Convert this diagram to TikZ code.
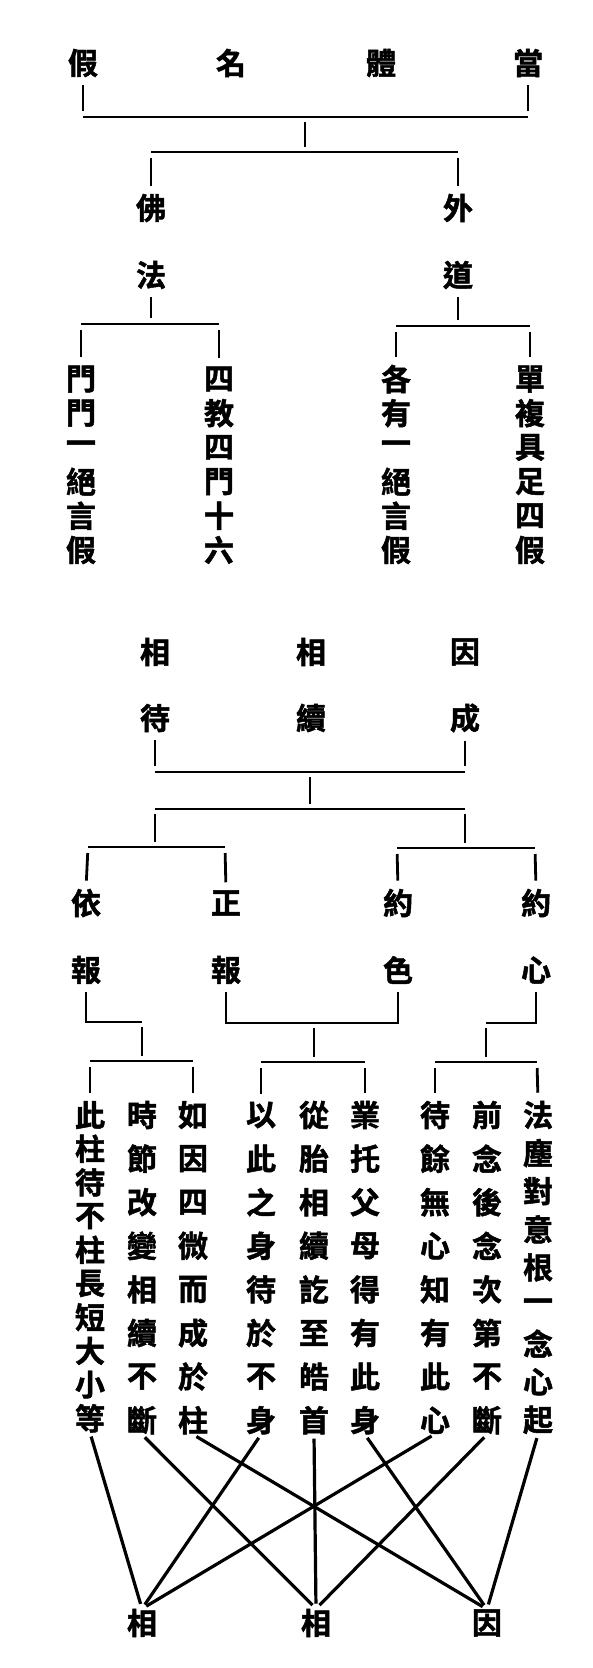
\documentclass[tikz,border=0pt]{standalone}
\usepackage{fontspec}
\usepackage{tikz}
\newfontfamily\cjk{Noto Sans CJK TC}[UprightFont=* Bold, UprightFeatures={FakeBold=1.6}]

\begin{document}
\begin{tikzpicture}[x=1pt, y=-1pt,
  glyph/.style={inner sep=0pt, font=\cjk\fontsize{30}{30}\selectfont},
  tree/.style={line width=2.8pt},
  drop/.style={tree, shorten <=8pt, shorten >=6pt},
  hang/.style={tree, shorten <=6pt, shorten >=8pt},
  stem/.style={tree, shorten <=5pt, shorten >=5pt},
  cross/.style={line width=3.2pt, shorten <=4pt, shorten >=5pt}]
\useasboundingbox (0,0) rectangle (592,1668);

% Heading row
\node[glyph] (jia) at (83,63) {假};
\node[glyph] (ming) at (231,63) {名};
\node[glyph] (ti) at (381,63) {體};
\node[glyph] (dang) at (528,63) {當};

% First bracket
\coordinate (h1l) at (83,117);
\coordinate (h1m) at (305,117);
\coordinate (h1r) at (528,117);
\draw[drop] (jia.south) -- (h1l);
\draw[drop] (dang.south) -- (h1r);
\draw[tree] (h1l) -- (h1r);
\coordinate (h2l) at (151,152);
\coordinate (h2m) at (305,152);
\coordinate (h2r) at (458,152);
\draw[stem] (h1m) -- (h2m);
\draw[tree] (h2l) -- (h2r);

% Buddhist and outer paths
\node[glyph] (fo) at (151,208) {佛};
\node[glyph] (fa) at (151,275) {法};
\node[glyph] (wai) at (458,208) {外};
\node[glyph] (dao) at (458,275) {道};
\draw[hang] (h2l) -- (fo.north);
\draw[hang] (h2r) -- (wai.north);

% Brackets under fa and dao
\coordinate (h3l) at (81,324);
\coordinate (h3m) at (151,324);
\coordinate (h3r) at (219,324);
\coordinate (h4l) at (396,326);
\coordinate (h4m) at (458,326);
\coordinate (h4r) at (530,326);
\draw[drop] (fa.south) -- (h3m);
\draw[drop] (dao.south) -- (h4m);
\draw[tree] (h3l) -- (h3r);
\draw[tree] (h4l) -- (h4r);

% Top columns
\foreach \zi [count=\i] in {門,門,一,絕,言,假}
  \node[glyph] (fo1-\i) at (81,{379+34.2*(\i-1)}) {\zi};
\foreach \zi [count=\i] in {四,教,四,門,十,六}
  \node[glyph] (fo2-\i) at (219,{379+34.2*(\i-1)}) {\zi};
\foreach \zi [count=\i] in {各,有,一,絕,言,假}
  \node[glyph] (wai1-\i) at (396,{379+34.2*(\i-1)}) {\zi};
\foreach \zi [count=\i] in {單,複,具,足,四,假}
  \node[glyph] (wai2-\i) at (530,{379+34.2*(\i-1)}) {\zi};
\draw[hang] (h3l) -- (fo1-1.north);
\draw[hang] (h3r) -- (fo2-1.north);
\draw[hang] (h4l) -- (wai1-1.north);
\draw[hang] (h4r) -- (wai2-1.north);

% Second heading
\node[glyph] (xa) at (155,652) {相};
\node[glyph] (xb) at (311,652) {相};
\node[glyph] (yin) at (465,652) {因};
\node[glyph] (dai) at (155,718) {待};
\node[glyph] (xu) at (311,718) {續};
\node[glyph] (cheng) at (465,718) {成};

% Middle bracket
\coordinate (h5l) at (155,772);
\coordinate (h5m) at (310,772);
\coordinate (h5r) at (465,772);
\draw[drop] (dai.south) -- (h5l);
\draw[drop] (cheng.south) -- (h5r);
\draw[tree] (h5l) -- (h5r);
\coordinate (h6l) at (155,809);
\coordinate (h6m) at (310,809);
\coordinate (h6r) at (465,809);
\draw[stem] (h5m) -- (h6m);
\draw[tree] (h6l) -- (h6r);
\coordinate (h7l) at (88,847);
\coordinate (h7m) at (155,847);
\coordinate (h7r) at (225,847);
\coordinate (h8l) at (397,848);
\coordinate (h8m) at (465,848);
\coordinate (h8r) at (535,848);
\draw[stem] (h6l) -- (h7m);
\draw[stem] (h6r) -- (h8m);
\draw[tree] (h7l) -- (h7r);
\draw[tree] (h8l) -- (h8r);

% Four branches
\node[glyph] (yi) at (86,903) {依};
\node[glyph] (zheng) at (226,903) {正};
\node[glyph] (yue1) at (398,903) {約};
\node[glyph] (yue2) at (536,903) {約};
\node[glyph] (bao1) at (86,970) {報};
\node[glyph] (bao2) at (226,970) {報};
\node[glyph] (se) at (398,970) {色};
\node[glyph] (xin) at (536,970) {心};
\draw[hang] (h7l) -- (yi.north);
\draw[hang] (h7r) -- (zheng.north);
\draw[hang] (h8l) -- (yue1.north);
\draw[hang] (h8r) -- (yue2.north);

% Brackets under the branches
\coordinate (k1) at (142,1022);
\coordinate (k2) at (314,1023);
\coordinate (k3) at (486,1023);
\draw[tree, shorten <=8pt] (bao1.south) |- (k1);
\draw[tree, shorten <=8pt, shorten >=8pt] (bao2.south) |- (k2) -| (se.south);
\draw[tree, shorten <=8pt] (xin.south) |- (k3);
\coordinate (h9l) at (90,1061);
\coordinate (h9m) at (142,1061);
\coordinate (h9r) at (193,1061);
\coordinate (h10l) at (261,1062);
\coordinate (h10m) at (314,1062);
\coordinate (h10r) at (365,1062);
\coordinate (h11l) at (435,1062);
\coordinate (h11m) at (486,1062);
\coordinate (h11r) at (537,1062);
\draw[stem] (k1) -- (h9m);
\draw[stem] (k2) -- (h10m);
\draw[stem] (k3) -- (h11m);
\draw[tree] (h9l) -- (h9r);
\draw[tree] (h10l) -- (h10r);
\draw[tree] (h11l) -- (h11r);

% Nine columns
\foreach \zi [count=\i] in {此,柱,待,不,柱,長,短,大,小,等}
  \node[glyph] (col1-\i) at (90,{1115+33.7*(\i-1)}) {\zi};
\foreach \zi [count=\i] in {時,節,改,變,相,續,不,斷}
  \node[glyph] (col2-\i) at (142,{1115+43.6*(\i-1)}) {\zi};
\foreach \zi [count=\i] in {如,因,四,微,而,成,於,柱}
  \node[glyph] (col3-\i) at (193,{1115+43.6*(\i-1)}) {\zi};
\foreach \zi [count=\i] in {以,此,之,身,待,於,不,身}
  \node[glyph] (col4-\i) at (261,{1115+43.6*(\i-1)}) {\zi};
\foreach \zi [count=\i] in {從,胎,相,續,訖,至,皓,首}
  \node[glyph] (col5-\i) at (314,{1115+43.6*(\i-1)}) {\zi};
\foreach \zi [count=\i] in {業,托,父,母,得,有,此,身}
  \node[glyph] (col6-\i) at (365,{1115+43.6*(\i-1)}) {\zi};
\foreach \zi [count=\i] in {待,餘,無,心,知,有,此,心}
  \node[glyph] (col7-\i) at (435,{1115+43.6*(\i-1)}) {\zi};
\foreach \zi [count=\i] in {前,念,後,念,次,第,不,斷}
  \node[glyph] (col8-\i) at (487,{1115+43.6*(\i-1)}) {\zi};
\foreach \zi [count=\i] in {法,塵,對,意,根,一,念,心,起}
  \node[glyph] (col9-\i) at (538,{1115+38.1*(\i-1)}) {\zi};
\draw[hang] (h9l) -- (col1-1.north);
\draw[hang] (h9r) -- (col3-1.north);
\draw[hang] (h10l) -- (col4-1.north);
\draw[hang] (h10r) -- (col6-1.north);
\draw[hang] (h11l) -- (col7-1.north);
\draw[hang] (h11r) -- (col9-1.north);

% Bottom row
\node[glyph] (b1) at (142,1623) {相};
\node[glyph] (b2) at (316,1623) {相};
\node[glyph] (b3) at (487,1623) {因};

% Crossing lines
\draw[cross] (col1-10.south) -- (b1.north);
\draw[cross] (col4-8.south) -- (b1.north);
\draw[cross] (col7-8.south) -- (b1.north);
\draw[cross] (col2-8.south) -- (b2.north);
\draw[cross] (col5-8.south) -- (b2.north);
\draw[cross] (col8-8.south) -- (b2.north);
\draw[cross] (col3-8.south) -- (b3.north);
\draw[cross] (col6-8.south) -- (b3.north);
\draw[cross] (col9-9.south) -- (b3.north);
\end{tikzpicture}
\end{document}
